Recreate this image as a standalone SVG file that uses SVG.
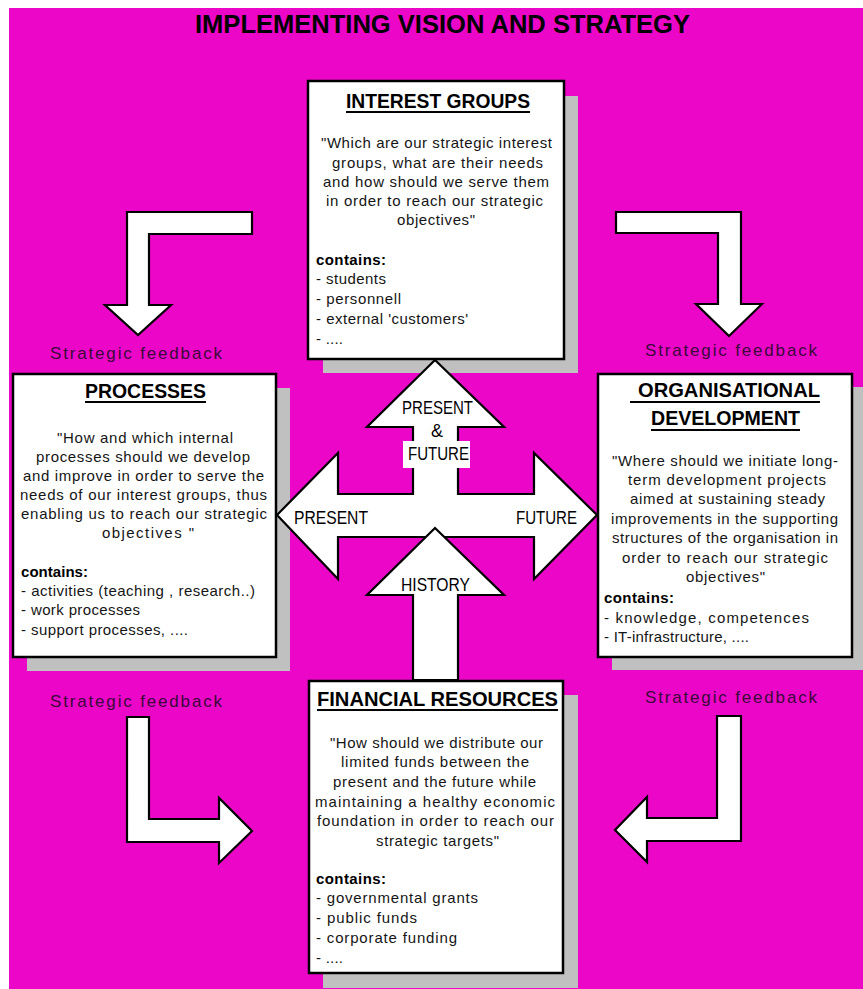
<svg xmlns="http://www.w3.org/2000/svg" width="863" height="989" viewBox="0 0 863 989">
  <style>
    .bg { fill: #EC06C8; }
    .shadow { fill: #C0C0C0; }
    .box { fill: #FFFFFF; stroke: #000000; stroke-width: 2.5; }
    .arrow { fill: #FFFFFF; stroke: #000000; stroke-width: 2.2; stroke-linejoin: miter; }
    .title { font-family: "Liberation Sans", Arial, sans-serif; font-weight: bold; font-size: 26px; fill: #000; }
    .head { font-family: "Liberation Sans", Arial, sans-serif; font-weight: bold; font-size: 21px; fill: #000; }
    .body { font-family: "Liberation Sans", Arial, sans-serif; font-size: 15px; fill: #151515; }
    .bold { font-family: "Liberation Sans", Arial, sans-serif; font-weight: bold; font-size: 15px; fill: #000; }
    .lbl { font-family: "Liberation Sans", Arial, sans-serif; font-size: 18px; fill: #000; }
    .fb { font-family: "Liberation Sans", Arial, sans-serif; font-size: 17px; fill: #3A0A3A; }
    .ul { fill: #000; }
  </style>

  <!-- page background -->
  <rect class="bg" x="9" y="8" width="854" height="981"/>

  <text class="title" x="195" y="33" textLength="495" lengthAdjust="spacingAndGlyphs">IMPLEMENTING VISION AND STRATEGY</text>

  <!-- node shadows sit underneath the central arrows -->
  <g id="shadows">
    <rect class="shadow" x="323" y="96" width="255" height="277"/>
    <rect class="shadow" x="27" y="388" width="263" height="283"/>
    <rect class="shadow" x="612" y="387" width="255" height="283"/>
    <rect class="shadow" x="323" y="695" width="255" height="293"/>
  </g>

  <g id="interest-groups">
    <rect class="box" x="308" y="81" width="256" height="278"/>
    <text class="head" x="346" y="108" textLength="184" lengthAdjust="spacingAndGlyphs">INTEREST GROUPS</text>
    <rect class="ul" x="346" y="111" width="184" height="2"/>
    <text class="body" x="321" y="148" textLength="231" lengthAdjust="spacing">"Which are our strategic interest</text>
    <text class="body" x="332" y="168" textLength="211" lengthAdjust="spacing">groups, what are their needs</text>
    <text class="body" x="323" y="187" textLength="226" lengthAdjust="spacing">and how should we serve them</text>
    <text class="body" x="326" y="206" textLength="217" lengthAdjust="spacing">in order to reach our strategic</text>
    <text class="body" x="397" y="225" textLength="78" lengthAdjust="spacing">objectives"</text>
    <text class="bold" x="316" y="265" textLength="70" lengthAdjust="spacing">contains:</text>
    <text class="body" x="316" y="284" textLength="70" lengthAdjust="spacing">- students</text>
    <text class="body" x="316" y="304" textLength="85" lengthAdjust="spacing">- personnell</text>
    <text class="body" x="316" y="324" textLength="152" lengthAdjust="spacing">- external 'customers'</text>
    <text class="body" x="316" y="344" textLength="27" lengthAdjust="spacing">- ....</text>
  </g>

  <g id="processes">
    <rect class="box" x="13" y="374" width="263" height="283"/>
    <text class="head" x="85" y="398" textLength="121" lengthAdjust="spacingAndGlyphs">PROCESSES</text>
    <rect class="ul" x="85" y="401" width="121" height="2"/>
    <text class="body" x="57" y="443" textLength="176" lengthAdjust="spacing">"How and which internal</text>
    <text class="body" x="36" y="462" textLength="214" lengthAdjust="spacing">processes should we develop</text>
    <text class="body" x="23" y="481" textLength="241" lengthAdjust="spacing">and improve in order to serve the</text>
    <text class="body" x="20" y="500" textLength="247" lengthAdjust="spacing">needs of our interest groups, thus</text>
    <text class="body" x="21" y="519" textLength="246" lengthAdjust="spacing">enabling us to reach our strategic</text>
    <text class="body" x="102" y="538" textLength="92" lengthAdjust="spacing">objectives "</text>
    <text class="bold" x="21" y="577" textLength="67" lengthAdjust="spacing">contains:</text>
    <text class="body" x="21" y="596" textLength="234" lengthAdjust="spacing">- activities (teaching , research..)</text>
    <text class="body" x="21" y="615" textLength="119" lengthAdjust="spacing">- work processes</text>
    <text class="body" x="21" y="635" textLength="167" lengthAdjust="spacing">- support processes, ....</text>
  </g>

  <g id="organisational-development">
    <rect class="box" x="598" y="374" width="254" height="283"/>
    <text class="head" x="638" y="397" textLength="182" lengthAdjust="spacingAndGlyphs">ORGANISATIONAL</text>
    <rect class="ul" x="630" y="401" width="190" height="2"/>
    <text class="head" x="651" y="425" textLength="149" lengthAdjust="spacingAndGlyphs">DEVELOPMENT</text>
    <rect class="ul" x="651" y="429" width="149" height="2"/>
    <text class="body" x="612" y="466" textLength="226" lengthAdjust="spacing">"Where should we initiate long-</text>
    <text class="body" x="628" y="485" textLength="198" lengthAdjust="spacing">term development projects</text>
    <text class="body" x="630" y="504" textLength="195" lengthAdjust="spacing">aimed at sustaining steady</text>
    <text class="body" x="611" y="524" textLength="227" lengthAdjust="spacing">improvements in the supporting</text>
    <text class="body" x="612" y="543" textLength="226" lengthAdjust="spacing">structures of the organisation in</text>
    <text class="body" x="622" y="563" textLength="206" lengthAdjust="spacing">order to reach our strategic</text>
    <text class="body" x="686" y="582" textLength="79" lengthAdjust="spacing">objectives"</text>
    <text class="bold" x="604" y="603" textLength="70" lengthAdjust="spacing">contains:</text>
    <text class="body" x="604" y="623" textLength="205" lengthAdjust="spacing">- knowledge, competences</text>
    <text class="body" x="604" y="642" textLength="145" lengthAdjust="spacing">- IT-infrastructure, ....</text>
  </g>

  <g id="financial-resources">
    <rect class="box" x="309" y="681" width="254" height="292"/>
    <text class="head" x="317" y="706" textLength="241" lengthAdjust="spacingAndGlyphs">FINANCIAL RESOURCES</text>
    <rect class="ul" x="317" y="709" width="241" height="2"/>
    <text class="body" x="330" y="748" textLength="213" lengthAdjust="spacing">"How should we distribute our</text>
    <text class="body" x="341" y="767" textLength="188" lengthAdjust="spacing">limited funds between the</text>
    <text class="body" x="333" y="787" textLength="203" lengthAdjust="spacing">present and the future while</text>
    <text class="body" x="315" y="807" textLength="240" lengthAdjust="spacing">maintaining a healthy economic</text>
    <text class="body" x="317" y="826" textLength="237" lengthAdjust="spacing">foundation in order to reach our</text>
    <text class="body" x="376" y="846" textLength="123" lengthAdjust="spacing">strategic targets"</text>
    <text class="bold" x="316" y="884" textLength="70" lengthAdjust="spacing">contains:</text>
    <text class="body" x="316" y="903" textLength="162" lengthAdjust="spacing">- governmental grants</text>
    <text class="body" x="316" y="923" textLength="101" lengthAdjust="spacing">- public funds</text>
    <text class="body" x="316" y="943" textLength="141" lengthAdjust="spacing">- corporate funding</text>
    <text class="body" x="316" y="963" textLength="27" lengthAdjust="spacing">- ....</text>
  </g>

  <g id="connectors">
    <!-- central cross: up arrow merged with the two-headed horizontal arrow -->
    <polygon class="arrow" points="277,515 338,453 338,494 413,494 413,427 367,427 435,360 504,427 458,427 458,494 534,494 534,453 597,515 534,579 534,537 338,537 338,579"/>
    <!-- history arrow rising from the financial box -->
    <polygon class="arrow" points="435,528 504,595 458,595 458,680 413,680 413,595 367,595"/>
    <rect x="403" y="441" width="67" height="27" fill="#FFFFFF"/>
    <text class="lbl" x="402" y="414" textLength="71" lengthAdjust="spacingAndGlyphs">PRESENT</text>
    <text class="lbl" x="437" y="437" text-anchor="middle" font-size="16">&amp;</text>
    <text class="lbl" x="408" y="460" textLength="61" lengthAdjust="spacingAndGlyphs">FUTURE</text>
    <text class="lbl" x="294" y="524" textLength="74" lengthAdjust="spacingAndGlyphs">PRESENT</text>
    <text class="lbl" x="516" y="524" textLength="61" lengthAdjust="spacingAndGlyphs">FUTURE</text>
    <text class="lbl" x="401" y="591" textLength="69" lengthAdjust="spacingAndGlyphs">HISTORY</text>

    <!-- strategic feedback bent arrows -->
    <polygon class="arrow" points="127,212 252,212 252,234 149,234 149,305 171,305 138,335 105,305 127,305"/>
    <polygon class="arrow" points="616,212 741,212 741,304 762,304 729,336 696,304 718,304 718,233 616,233"/>
    <polygon class="arrow" points="127,717 149,717 149,819 219,819 219,798 252,831 219,863 219,842 127,842"/>
    <polygon class="arrow" points="717,716 741,716 741,841 647,841 647,862 615,830 647,797 647,818 717,818"/>
    <text class="fb" x="50" y="359" textLength="172" lengthAdjust="spacing">Strategic feedback</text>
    <text class="fb" x="645" y="356" textLength="172" lengthAdjust="spacing">Strategic feedback</text>
    <text class="fb" x="50" y="707" textLength="172" lengthAdjust="spacing">Strategic feedback</text>
    <text class="fb" x="645" y="703" textLength="172" lengthAdjust="spacing">Strategic feedback</text>
  </g>
</svg>
